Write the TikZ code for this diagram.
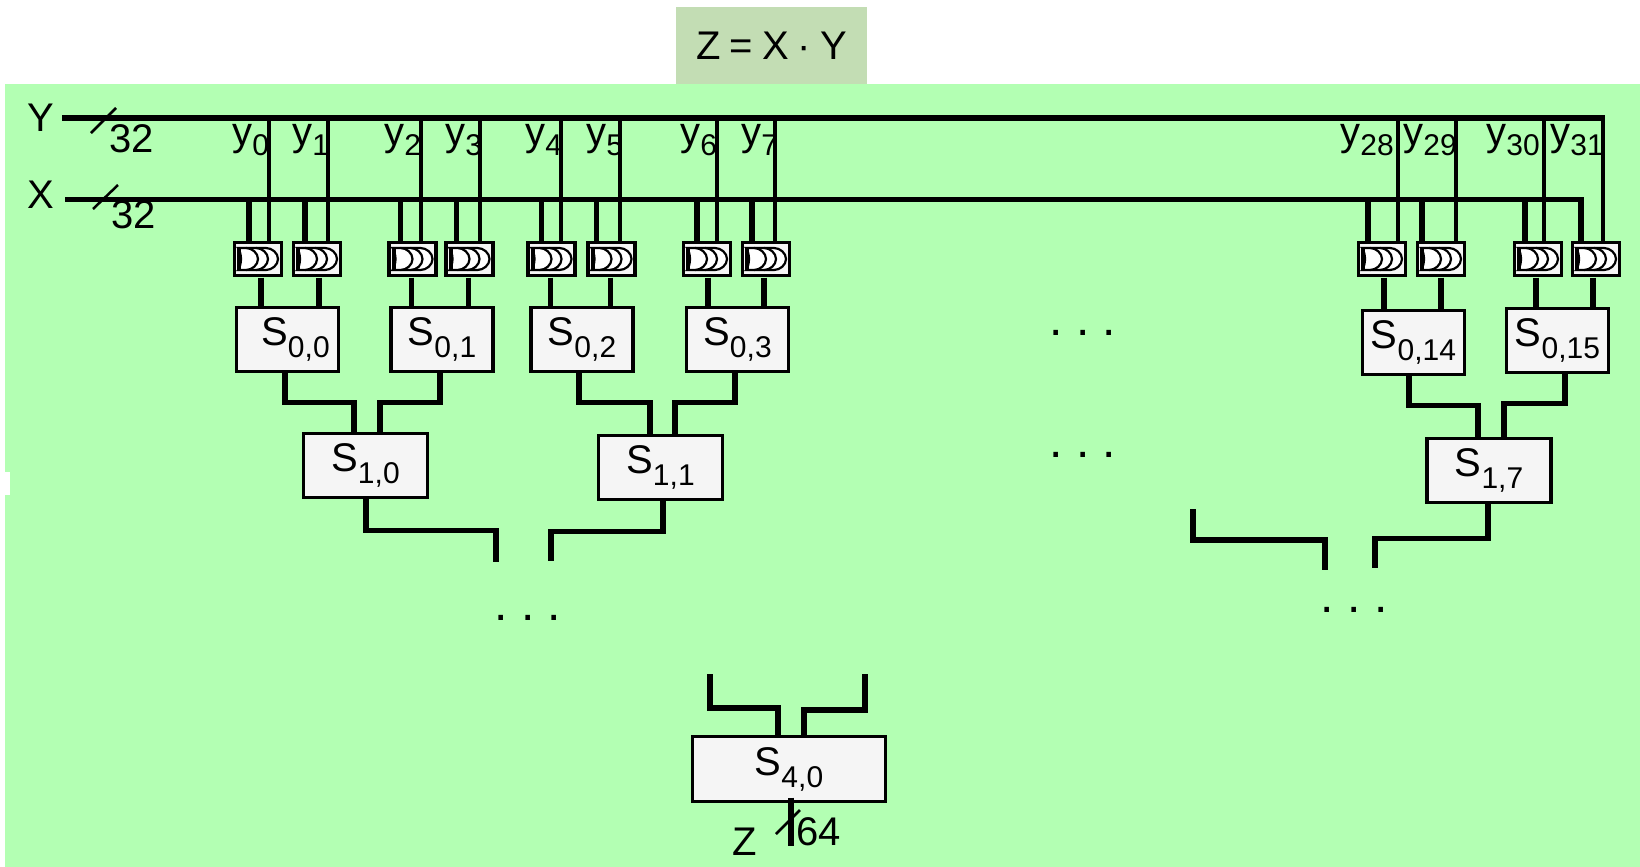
\documentclass[tikz,border=0pt]{standalone}
\usepackage{fontspec}
\setmainfont{Liberation Sans}

% text with a lowered index
\newcommand{\lab}[3]{#1\raisebox{-#3pt}{\fontsize{15}{15}\selectfont #2}}
\newcommand{\orpath}{(-20,-11) -- (-12,-11) .. controls (-6,-11) and (0,-6) .. (0,0) .. controls (0,6) and (-6,11) .. (-12,11) -- (-20,11) .. controls (-16,5) and (-16,-5) .. (-20,-11) -- cycle}

\definecolor{panelgreen}{HTML}{B3FFB3}
\definecolor{titlegreen}{HTML}{C3DDB4}
\definecolor{boxgray}{HTML}{F5F5F5}

\tikzset{
    txt/.style={font=\fontsize{20}{24}\selectfont, inner sep=0pt},
    dotrow/.style={font=\fontsize{24}{24}\selectfont\frenchspacing, inner sep=0pt},
    sumbox/.style={txt, draw, line width=1.75pt, fill=boxgray, outer sep=0pt, minimum width=51pt, minimum height=32pt},
    gatebox/.style={draw, line width=1.75pt, fill=boxgray, inner sep=0pt, outer sep=0pt, minimum width=23.5pt, minimum height=16.5pt},
    ybus/.style={line width=3pt},
    xbus/.style={line width=2.5pt},
    ytap/.style={line width=2pt},
    bus/.style={line width=2.75pt},
    slash/.style={line width=1.25pt},
    orline/.style={line width=1.1pt, fill=white},
    orsym/.pic={
        \draw[orline, shift={(20,0)}] \orpath;
        \draw[orline, shift={(10,0)}] \orpath;
        \draw[orline] \orpath;
        \draw[line width=2pt] (-19,-11) -- (-19,11);
    }
}

% name, x, then the shifts of X tap, Y tap and output, then the box it feeds
\newcommand{\gate}[6]{
    \node[gatebox] (#1) at (#2,259) {};
    \pic at (#1) {orsym};
    \draw[bus] ([xshift=#3pt]#1.north) -- ([xshift=#3pt]#1.north |- xl);
    \draw[ytap] ([xshift=#4pt]#1.north) -- ([xshift=#4pt]#1.north |- yl);
    \draw[bus, shorten <=1pt] ([xshift=#5pt]#1.south) -- ([xshift=#5pt]#1.south |- #6.north);
}

\begin{document}
\begin{tikzpicture}[x=0.5pt, y=-0.5pt]
    \useasboundingbox (0,0) rectangle (1640,867);

    % Background
    \fill[panelgreen] (5,84) rectangle (1640,867);
    \fill[white] (0,472) rectangle (10,495);
    \node[txt, fill=titlegreen, minimum width=95.5pt, minimum height=38.5pt] (title) at (771.5,45.5) {\spaceskip=4.5pt Z = X · Y};

    % Inputs
    \coordinate (yl) at (62,118);
    \coordinate (yr) at (1605,118);
    \coordinate (xl) at (65,199);
    \coordinate (xr) at (1584,199);
    \coordinate (yslasta) at (91,133);
    \coordinate (yslastb) at (116,108);
    \coordinate (xslasta) at (93,209);
    \coordinate (xslastb) at (118,185);
    \node[txt] (ylab) at (41,118) {Y};
    \node[txt] (xlab) at (41,195) {X};
    \node[txt] (ywidth) at (132,139) {32};
    \node[txt] (xwidth) at (134,215) {32};
    \draw[ybus] (yl) -- (yr);
    \draw[xbus] (xl) -- (xr);
    \draw[slash] (yslasta) -- (yslastb);
    \draw[slash] (xslasta) -- (xslastb);

    % Bit labels
    \node[txt, anchor=base west] (y0) at (232,145) {\lab{y}{0}{5}};
    \node[txt, anchor=base west] (y1) at (292,145) {\lab{y}{1}{5}};
    \node[txt, anchor=base west] (y2) at (384,145) {\lab{y}{2}{5}};
    \node[txt, anchor=base west] (y3) at (445,145) {\lab{y}{3}{5}};
    \node[txt, anchor=base west] (y4) at (525,145) {\lab{y}{4}{5}};
    \node[txt, anchor=base west] (y5) at (586,145) {\lab{y}{5}{5}};
    \node[txt, anchor=base west] (y6) at (680,145) {\lab{y}{6}{5}};
    \node[txt, anchor=base west] (y7) at (741,145) {\lab{y}{7}{5}};
    \node[txt, anchor=base west] (y28) at (1340,145) {\lab{y}{28}{5}};
    \node[txt, anchor=base west] (y29) at (1403,145) {\lab{y}{29}{5}};
    \node[txt, anchor=base west] (y30) at (1486,145) {\lab{y}{30}{5}};
    \node[txt, anchor=base west] (y31) at (1550,145) {\lab{y}{31}{5}};

    % First row of boxes
    \node[sumbox] (S00) at (287.5,339.5) {\hspace*{8pt}\lab{S}{0,0}{6}};
    \node[sumbox] (S01) at (442,339.5) {\lab{S}{0,1}{6}};
    \node[sumbox] (S02) at (582,339.5) {\lab{S}{0,2}{6}};
    \node[sumbox] (S03) at (737.5,339.5) {\lab{S}{0,3}{6}};
    \node[sumbox] (S014) at (1413.5,342.5) {\lab{S}{0,14}{6}};
    \node[sumbox] (S015) at (1557.5,340.5) {\lab{S}{0,15}{6}};

    % Gates
    \gate{g0}{258}{-4.5}{5.5}{1.5}{S00}
    \gate{g1}{317}{-6}{5.5}{1}{S00}
    \gate{g2}{412.5}{-6}{4}{-0.5}{S01}
    \gate{g3}{469.5}{-6.5}{5}{-0.5}{S01}
    \gate{g4}{551.5}{-5}{4.5}{-0.5}{S02}
    \gate{g5}{611.5}{-7.5}{4}{-0.5}{S02}
    \gate{g6}{707}{-5}{5}{0.5}{S03}
    \gate{g7}{766}{-7}{4.5}{-1}{S03}
    \gate{g28}{1382}{-7}{8}{1}{S014}
    \gate{g29}{1441}{-9.5}{7.5}{0}{S014}
    \gate{g30}{1538}{-6.5}{3}{-1}{S015}
    \gate{g31}{1596}{-7.5}{3.5}{-1.5}{S015}

    % Second row of boxes
    \node[sumbox, minimum width=62pt] (S10) at (365.5,465.5) {\lab{S}{1,0}{6}};
    \node[sumbox, minimum width=62pt] (S11) at (660.5,467.5) {\lab{S}{1,1}{6}};
    \node[sumbox, minimum width=62pt] (S17) at (1489,470.5) {\lab{S}{1,7}{6}};

    \draw[bus] ([xshift=-1.25pt]S00.south) -- ++(0,31) -| ([xshift=-5.75pt]S10.north);
    \draw[bus] ([xshift=-1pt]S01.south) -- ++(0,31) -| ([xshift=7.25pt]S10.north);
    \draw[bus] ([xshift=-1.5pt]S02.south) -- ++(0,31) -| ([xshift=-5.25pt]S11.north);
    \draw[bus] ([xshift=-1.25pt]S03.south) -- ++(0,31) -| ([xshift=7.25pt]S11.north);
    \draw[bus] ([xshift=-2.25pt]S014.south) -- ++(0,31) -| ([xshift=-5.5pt]S17.north);
    \draw[bus] ([xshift=3.75pt]S015.south) -- ++(0,31) -| ([xshift=7.5pt]S17.north);

    % Open ends
    \coordinate (enda) at (496,562);
    \coordinate (endb) at (551,561);
    \coordinate (endc) at (1193,509);
    \coordinate (endd) at (1325,570);
    \coordinate (ende) at (1375,568);
    \draw[bus] ([xshift=0.25pt]S10.south) -- ++(0,33) -| (enda);
    \draw[bus] ([xshift=1.25pt]S11.south) -- ++(0,32) -| (endb);
    \draw[bus] (endc) -- ++(0,31) -| (endd);
    \draw[bus] ([xshift=-0.5pt]S17.south) -- ++(0,36) -| (ende);

    % Dots
    \node[dotrow] (dotsa) at (1083,333) {. . .};
    \node[dotrow] (dotsb) at (1083,455) {. . .};
    \node[dotrow] (dotsc) at (528,618) {. . .};
    \node[dotrow] (dotsd) at (1354,610) {. . .};

    % Output box
    \node[sumbox, minimum width=96.5pt, minimum height=32.5pt] (S40) at (789,769) {\lab{S}{4,0}{6}};
    \coordinate (ina) at (710,674);
    \coordinate (inb) at (865,674);
    \coordinate (zend) at (791,846);
    \coordinate (zslasta) at (776,834);
    \coordinate (zslastb) at (800,810);
    \draw[bus] (ina) -- ++(0,34) -| ([xshift=-5.5pt]S40.north);
    \draw[bus] (inb) -- ++(0,36) -| ([xshift=7.5pt]S40.north);
    \draw[bus] ([xshift=1pt,yshift=2pt]S40.south) -- (zend);
    \draw[slash] (zslasta) -- (zslastb);
    \node[txt] (zlab) at (745,842) {Z};
    \node[txt, anchor=west] (zwidth) at (796,832) {64};
\end{tikzpicture}
\end{document}
